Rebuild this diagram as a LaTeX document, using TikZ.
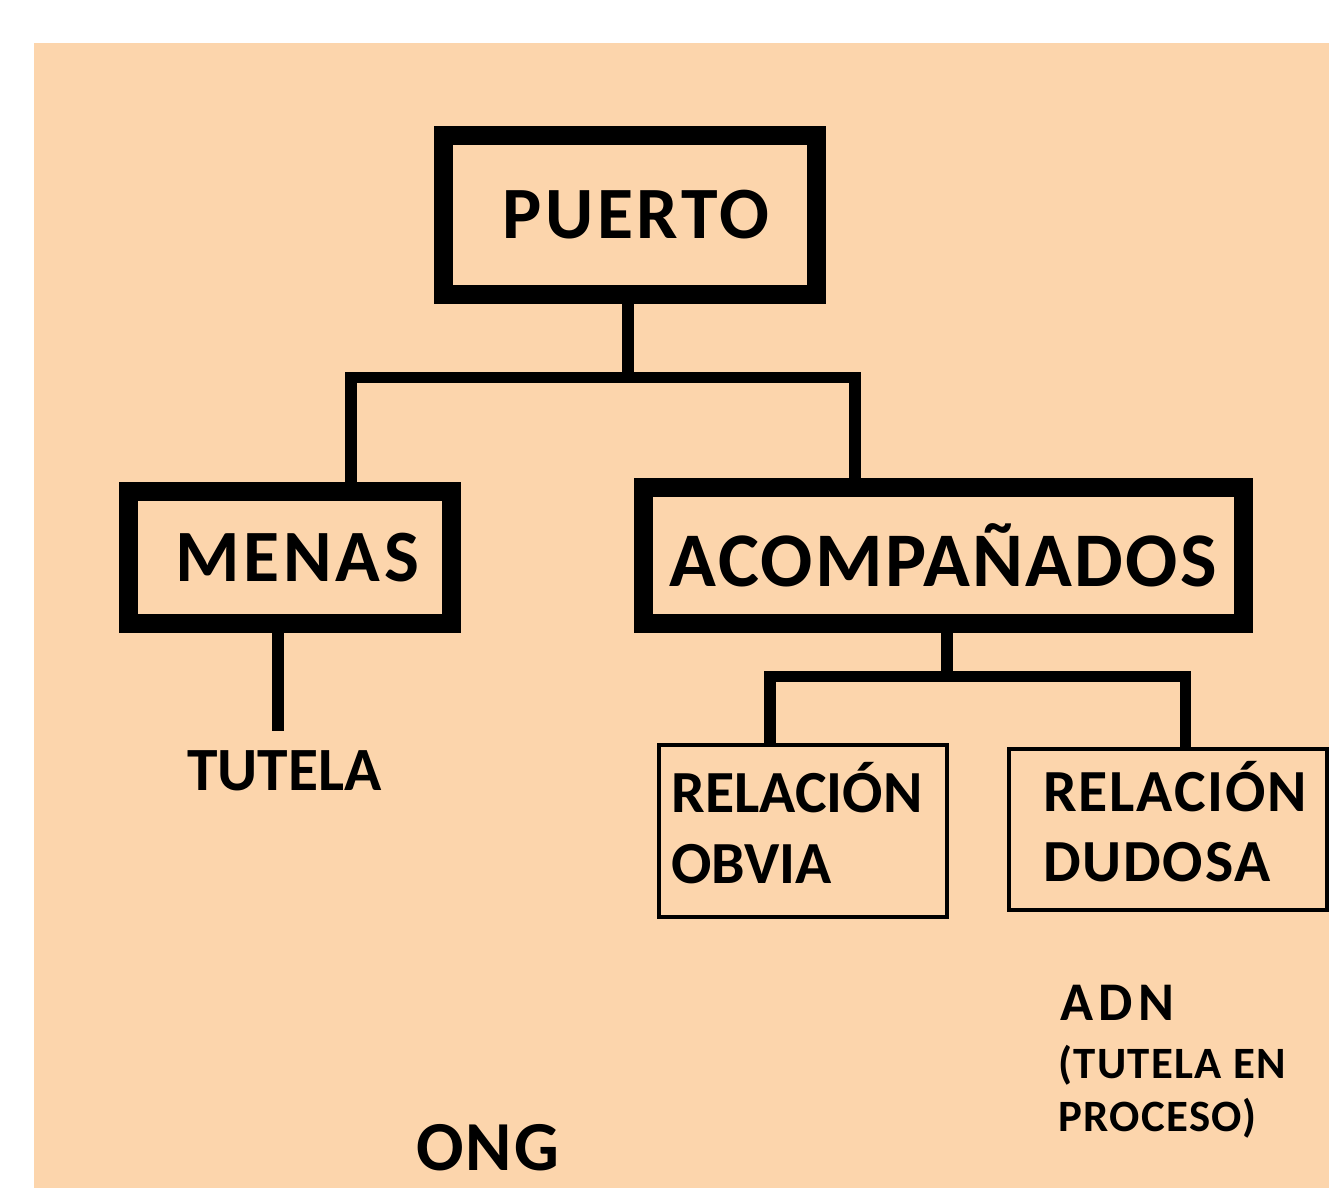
\documentclass[tikz,border=0pt]{standalone}
\usepackage{fontspec}
\setmainfont{Carlito}
\newfontfamily\wideA[LetterSpace=5]{Carlito}
\newfontfamily\wideB[LetterSpace=3]{Carlito}
\newfontfamily\wideC[LetterSpace=10]{Carlito}
\usepackage{tikz}
\definecolor{peach}{RGB}{252,213,172}

\begin{document}
\begin{tikzpicture}[x=0.02cm,y=-0.02cm,
	big_box/.style={rectangle,draw,line width=10.8pt,inner sep=0pt,font=\fontsize{42}{50}\selectfont\wideA\bfseries},
	small_box/.style={rectangle,draw,line width=2.3pt,inner sep=0pt,align=left,text depth=0.32cm,font=\fontsize{34}{40}\selectfont\bfseries},
	link_line/.style={line width=6.7pt},
	txt/.style={inner sep=0pt,anchor=base west}]
	\useasboundingbox (0,0) rectangle (1329,1188);
	\fill[white] (0,0) rectangle (1329,1188);
	\fill[peach] (34,43) rectangle (1329,1188);
	\node[big_box,minimum width=7.46cm,minimum height=3.18cm] (puerto) at (630,215) {\hspace*{0.24cm}PUERTO};
	\node[big_box,minimum width=6.46cm,minimum height=2.64cm] (menas) at (290,557.5) {\hspace*{0.3cm}MENAS};
	\node[big_box,minimum width=12cm,minimum height=2.72cm,font=\fontsize{44}{50}\selectfont\wideB\bfseries] (acomp) at (943.5,555.5) {ACOMPAÑADOS};
	\node[small_box,minimum width=5.76cm,minimum height=3.44cm] (obvia) at (803,831) {RELACIÓN\hspace*{0.24cm}\\OBVIA};
	\node[small_box,minimum width=6.36cm,minimum height=3.22cm,font=\fontsize{34}{40}\selectfont\wideB\bfseries] (dudosa) at (1168,829.5) {\hspace*{0.28cm}RELACIÓN\\\hspace*{0.28cm}DUDOSA};
	\node[txt,font=\fontsize{35}{40}\selectfont\bfseries] (tutela) at (187,790) {TUTELA};
	\node[txt,font=\fontsize{31}{36}\selectfont\wideC\bfseries] (adn) at (1060,1020) {ADN};
	\node[inner sep=0pt,anchor=north west,align=left,font=\fontsize{25.5}{30}\selectfont\wideB\bfseries] (proceso) at (1058,1045) {(TUTELA EN\\PROCESO)};
	\node[txt,font=\fontsize{40}{46}\selectfont\wideB\bfseries] (ong) at (416,1170) {ONG};
	\coordinate (j1) at (628,377.5);
	\coordinate (jl) at (351,377.5);
	\coordinate (jr) at (855,377.5);
	\coordinate (j2) at (947,676.5);
	\coordinate (jl2) at (770,676.5);
	\coordinate (jr2) at (1185.5,676.5);
	\coordinate (t1) at (278,731);
	\draw[link_line] (puerto.south -| j1) -- (j1);
	\draw[link_line] (menas.north -| jl) -- (jl) -- (jr) -- (acomp.north -| jr);
	\draw[link_line] (menas.south -| t1) -- (t1);
	\draw[link_line] (acomp.south -| j2) -- (j2);
	\draw[link_line] (obvia.north -| jl2) -- (jl2) -- (jr2) -- (dudosa.north -| jr2);
\end{tikzpicture}
\end{document}
